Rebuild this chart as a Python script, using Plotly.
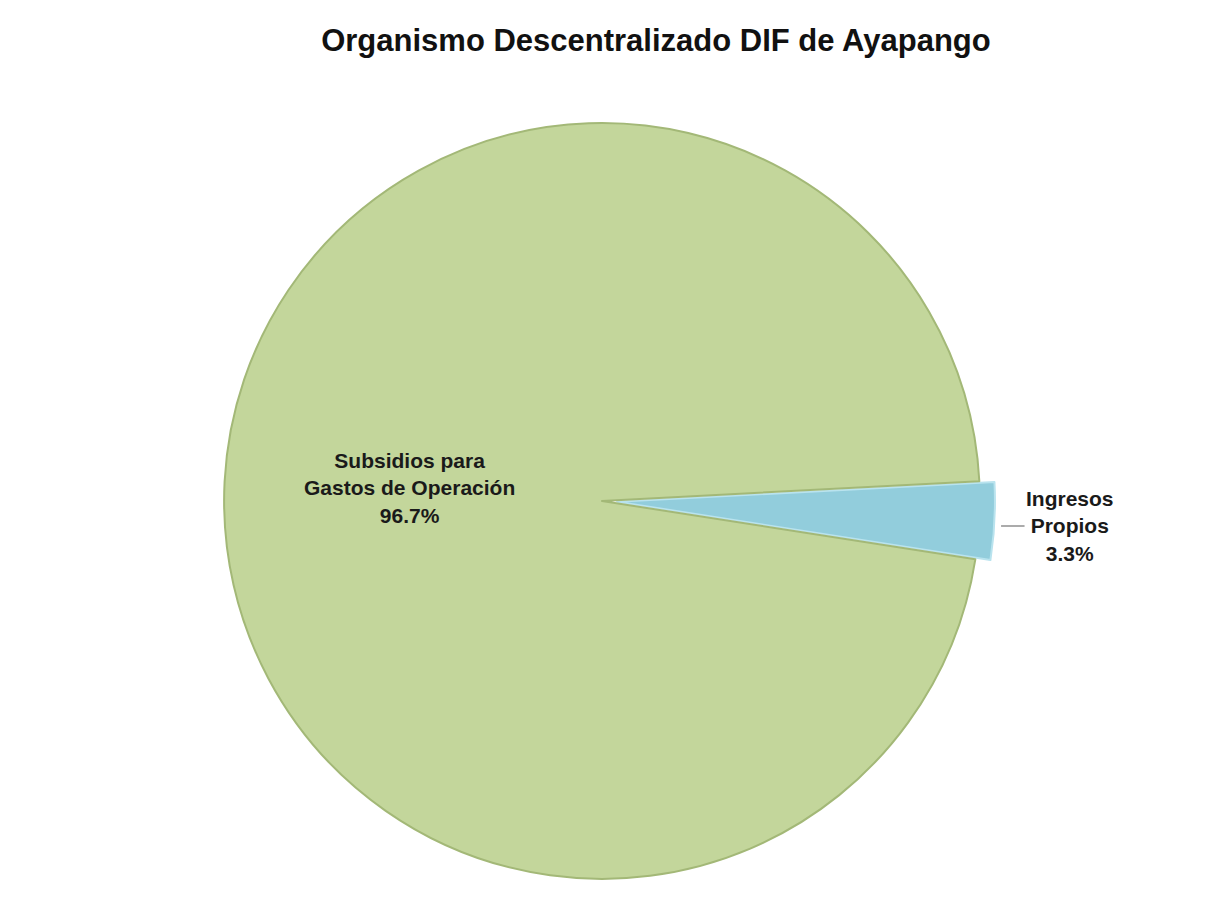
import plotly.graph_objects as go

# ---- data ----
title_text = "Organismo Descentralizado DIF de Ayapango"
labels = ["Ingresos<br>Propios", "Subsidios para<br>Gastos de Operación"]
values = [3.3, 96.7]
colors = ["#92CDDC", "#C3D69B"]
line_colors = ["#B9E3EE", "#A3B877"]
pulls = [0.04, 0.0]

fig = go.Figure()
fig.add_trace(go.Pie(
    labels=labels,
    values=values,
    sort=False,
    direction="clockwise",
    rotation=87,
    pull=pulls,
    marker=dict(colors=colors, line=dict(color=line_colors, width=2)),
    textinfo="none",
    showlegend=False,
    domain=dict(x=[0.1689, 0.8294], y=[0.00113, 0.8873]),
))

total = sum(values)
pcts = [v / total * 100 for v in values]
font_lbl = dict(family="Liberation Sans, Arial, sans-serif", size=21, color="#1a1a1a")

# label for Subsidios (inside big slice)
fig.add_annotation(
    x=0.3378, y=0.4589, xref="paper", yref="paper",
    text=f"<b>{labels[1]}<br>{pcts[1]:.1f}%</b>",
    showarrow=False, font=font_lbl, align="center",
)
# label for Ingresos (outside, with leader line)
fig.add_annotation(
    x=0.8345, y=0.416, xref="paper", yref="paper",
    ax=69, ay=0,
    text=f"<b>{labels[0]}<br>{pcts[0]:.1f}%</b>",
    showarrow=True, arrowhead=0, arrowwidth=1.2, arrowcolor="#595959",
    font=font_lbl, align="center",
)

fig.update_layout(
    width=1190, height=887,
    margin=dict(l=0, r=0, t=0, b=0),
    paper_bgcolor="white",
    plot_bgcolor="white",
    title=dict(
        text=f"<b>{title_text}</b>",
        x=0.5445, xanchor="center", y=0.9639, yanchor="middle",
        font=dict(family="Liberation Sans, Arial, sans-serif", size=31, color="#111111"),
    ),
)

fig.write_html("out.html")
